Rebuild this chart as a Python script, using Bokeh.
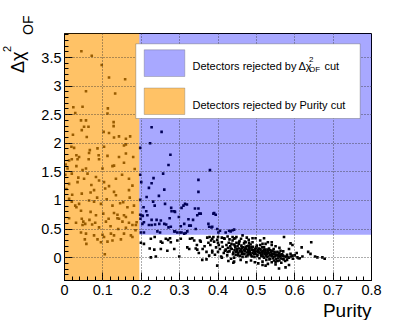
import numpy as np
from bokeh.plotting import figure
from bokeh.layouts import row
from bokeh.models import Range1d, FixedTicker, CustomJSTickFormatter, Label, BoxAnnotation, Title, Div
from bokeh.embed import file_html
from bokeh.resources import INLINE

# ---------------- data ----------------
# detectors rejected by the purity cut (purity < cut)
rejP_purity = [0.044, 0.071, 0.097, 0.116, 0.158, 0.056, 0.132, 0.023, 0.047, 0.113, 0.028, 0.112,
               0.043, 0.056, 0.128, 0.0625, 0.051, 0.045, 0.102, 0.116, 0.129, 0.142, 0.171, 0.022,
               0.058, 0.128, 0.160, 0.025, 0.066, 0.086, 0.103, 0.155, 0.031, 0.034, 0.012, 0.019,
               0.063, 0.089, 0.090, 0.112, 0.142, 0.179, 0.155, 0.125, 0.129, 0.003, 0.008, 0.031,
               0.047, 0.056, 0.099, 0.002, 0.019, 0.036, 0.051, 0.012, 0.034, 0.082, 0.103, 0.134,
               0.116, 0.168, 0.177, 0.077, 0.068, 0.106, 0.129, 0.134, 0.168, 0.012, 0.019, 0.028,
               0.031, 0.038, 0.064, 0.077, 0.095, 0.125, 0.153, 0.164, 0.181, 0.043, 0.068, 0.082,
               0.101, 0.129, 0.138, 0.155, 0.160, 0.177, 0.045, 0.049, 0.054, 0.047, 0.030, 0.012,
               0.080, 0.108, 0.090, 0.138, 0.142, 0.151, 0.168, 0.177, 0.043, 0.056, 0.099, 0.103,
               0.077, 0.121, 0.129, 0.155, 0.173, 0.177, 0.086, 0.095, 0.112, 0.125, 0.147, 0.105,
               0.053, 0.057, 0.160, 0.064, 0.160, 0.038, 0.018, 0.070, 0.085, 0.110, 0.145, 0.170,
               0.060, 0.090, 0.150, 0.120, 0.140, 0.160, 0.185, 0.005, 0.020, 0.045, 0.115, 0.072,
               0.065, 0.183, 0.188, 0.186]
rejP_chi2 = [3.61, 3.53, 3.37, 3.15, 3.12, 2.91, 2.87, 2.63, 2.64, 2.61, 2.53, 2.52,
             2.40, 2.40, 2.37, 2.29, 2.29, 2.23, 2.20, 2.18, 2.10, 2.12, 2.12, 2.15,
             2.11, 2.30, 2.08, 1.92, 1.88, 1.91, 1.94, 1.96, 1.79, 1.72, 1.70, 1.72,
             1.72, 1.79, 1.72, 1.78, 1.76, 1.76, 1.66, 1.60, 1.61, 1.63, 1.56, 1.60,
             1.53, 1.56, 1.56, 1.45, 1.47, 1.40, 1.38, 1.29, 1.32, 1.41, 1.32, 1.38,
             1.25, 1.38, 1.26, 1.18, 1.14, 1.21, 1.15, 1.09, 1.18, 1.03, 0.98, 0.91,
             0.88, 0.94, 1.00, 0.98, 0.94, 0.91, 0.97, 0.88, 0.91, 0.82, 0.80, 0.74,
             0.77, 0.78, 0.75, 0.74, 0.71, 0.79, 0.68, 0.63, 0.59, 0.57, 0.61, 0.69,
             0.61, 0.63, 0.53, 0.69, 0.68, 0.63, 0.61, 0.57, 0.44, 0.42, 0.40, 0.36,
             0.39, 0.42, 0.39, 0.42, 0.39, 0.36, 0.32, 0.27, 0.28, 0.30, 0.32, 0.06,
             0.32, 0.24, 1.98, 1.83, 1.82, 1.76, 1.94, 1.27, 1.05, 1.02, 0.95, 1.05,
             1.47, 1.35, 1.45, 0.55, 0.50, 0.52, 0.48, 1.20, 1.10, 1.12, 0.68, 0.58,
             0.66, 1.55, 0.62, 0.57]

# detectors rejected by the delta chi2 cut
rejC_purity = [0.227, 0.253, 0.223, 0.197, 0.276, 0.271, 0.379, 0.197, 0.257, 0.232, 0.349, 0.200,
               0.227, 0.220, 0.260, 0.349, 0.214, 0.246, 0.197, 0.231, 0.235, 0.262, 0.278, 0.314,
               0.319, 0.310, 0.305, 0.286, 0.340, 0.349, 0.213, 0.197, 0.204, 0.298, 0.274, 0.351,
               0.346, 0.390, 0.394, 0.227, 0.240, 0.323, 0.335, 0.206, 0.279, 0.200, 0.198, 0.251,
               0.207, 0.220, 0.227, 0.260, 0.265, 0.277, 0.303, 0.312, 0.325, 0.329, 0.342, 0.377,
               0.383, 0.398, 0.405, 0.242, 0.249, 0.199, 0.207, 0.286, 0.294, 0.301, 0.316, 0.320,
               0.442, 0.420, 0.375, 0.401, 0.433, 0.203, 0.236, 0.247, 0.271, 0.288, 0.305, 0.312,
               0.355, 0.216, 0.288, 0.388, 0.385, 0.429, 0.438]
rejC_chi2 = [2.28, 2.20, 2.00, 1.92, 1.80, 1.62, 1.53, 1.45, 1.47, 1.39, 1.36, 1.32,
             1.30, 1.22, 1.19, 1.15, 1.06, 1.08, 1.01, 0.98, 0.91, 0.94, 0.87, 0.94,
             0.93, 0.91, 0.87, 0.81, 0.86, 0.86, 0.81, 0.75, 0.73, 0.71, 0.69, 0.77,
             0.74, 0.78, 0.75, 0.66, 0.66, 0.67, 0.66, 0.88, 0.81, 0.74, 0.68, 0.65,
             0.62, 0.57, 0.57, 0.59, 0.58, 0.54, 0.55, 0.59, 0.56, 0.56, 0.50, 0.54,
             0.53, 0.50, 0.47, 0.46, 0.44, 0.44, 0.44, 0.46, 0.44, 0.44, 0.43, 0.46,
             0.49, 0.44, 0.59, 0.44, 0.46, 0.59, 0.58, 0.59, 0.53, 0.46, 0.44, 0.42,
             0.77, 0.74, 0.80, 0.77, 0.54, 0.47, 0.48]

# detectors passing both cuts
pass_purity = [0.225, 0.235, 0.264, 0.270, 0.275, 0.277, 0.199, 0.207, 0.251, 0.255, 0.294, 0.303,
               0.327, 0.333, 0.338, 0.372, 0.378, 0.385, 0.416, 0.438, 0.222, 0.234, 0.251, 0.268,
               0.286, 0.320, 0.325, 0.342, 0.346, 0.353, 0.225, 0.238, 0.299, 0.377, 0.385, 0.398,
               0.359, 0.464, 0.490, 0.498, 0.572, 0.442, 0.448, 0.455, 0.472, 0.481, 0.516, 0.524,
               0.540, 0.618, 0.643, 0.585, 0.563, 0.589, 0.594, 0.581, 0.568, 0.607, 0.613, 0.589,
               0.594, 0.635, 0.641, 0.653, 0.659, 0.672, 0.678, 0.546, 0.550, 0.559, 0.576, 0.585,
               0.516, 0.524, 0.442, 0.440,
               0.380, 0.385, 0.390, 0.392, 0.395, 0.398, 0.400, 0.402, 0.405, 0.408, 0.410, 0.412,
               0.415, 0.417, 0.420, 0.422, 0.424, 0.426, 0.428, 0.430, 0.432, 0.434, 0.436, 0.438,
               0.440, 0.441, 0.443, 0.445, 0.446, 0.448, 0.450, 0.451, 0.453, 0.455, 0.456, 0.458,
               0.460, 0.461, 0.463, 0.465, 0.466, 0.468, 0.470, 0.471, 0.473, 0.475, 0.476, 0.478,
               0.480, 0.481, 0.483, 0.485, 0.486, 0.488, 0.490, 0.491, 0.493, 0.495, 0.496, 0.498,
               0.500, 0.501, 0.503, 0.505, 0.506, 0.508, 0.510, 0.511, 0.513, 0.515, 0.516, 0.518,
               0.520, 0.521, 0.523, 0.525, 0.526, 0.528, 0.530, 0.531, 0.533, 0.535, 0.536, 0.538,
               0.540, 0.542, 0.544, 0.546, 0.548, 0.550, 0.552, 0.554, 0.556, 0.558, 0.560, 0.562,
               0.565, 0.568, 0.570, 0.575, 0.578,
               0.425, 0.433, 0.439, 0.444, 0.449, 0.452, 0.457, 0.462, 0.464, 0.467, 0.469, 0.472,
               0.474, 0.477, 0.479, 0.482, 0.484, 0.487, 0.489, 0.492, 0.494, 0.497, 0.499, 0.502,
               0.504, 0.507, 0.509, 0.512, 0.514, 0.517, 0.519, 0.522, 0.524, 0.527, 0.529, 0.532,
               0.534, 0.537, 0.539, 0.541, 0.543, 0.547, 0.551, 0.555, 0.559, 0.563, 0.567, 0.571,
               0.574, 0.580, 0.585, 0.590, 0.595,
               0.400, 0.410, 0.418, 0.427, 0.435, 0.442, 0.447, 0.454, 0.459, 0.462, 0.470, 0.474,
               0.480, 0.486, 0.490, 0.496, 0.500, 0.505, 0.510, 0.516, 0.520, 0.526, 0.530, 0.535,
               0.540, 0.545, 0.550, 0.555, 0.560, 0.565, 0.570, 0.580, 0.365, 0.370, 0.375, 0.360,
               0.355, 0.350, 0.345, 0.370, 0.382, 0.388, 0.400, 0.410, 0.425, 0.430, 0.445, 0.460,
               0.475, 0.480, 0.510, 0.520, 0.530, 0.540, 0.550, 0.560, 0.600, 0.605, 0.610, 0.620]
pass_chi2 = [0.33, 0.36, 0.33, 0.31, 0.34, 0.27, 0.26, 0.24, 0.28, 0.26, 0.30, 0.33,
             0.33, 0.34, 0.30, 0.35, 0.36, 0.33, 0.34, 0.36, 0.16, 0.14, 0.15, 0.12,
             0.15, 0.18, 0.15, 0.16, 0.14, 0.30, 0.005, 0.02, 0.02, 0.035, 0.09, -0.14,
             -0.04, 0.39, 0.34, 0.34, 0.36, 0.33, 0.36, 0.27, 0.27, 0.26, 0.24, 0.24,
             0.27, 0.18, 0.27, 0.15, 0.12, 0.065, 0.035, 0.005, 0.035, 0.005, -0.01, 0.25,
             0.22, 0.10, 0.065, 0.02, 0.005, 0.005, -0.02, -0.05, -0.08, -0.19, -0.17, -0.13,
             -0.13, -0.14, -0.07, -0.09,
             0.22, 0.12, 0.28, 0.05, 0.18, 0.31, 0.10, 0.22, 0.15, 0.02, 0.27, 0.19,
             0.08, 0.33, 0.14, 0.22, 0.04, 0.17, 0.26, 0.11, 0.20, -0.02, 0.15, 0.30,
             0.09, 0.23, 0.13, 0.18, 0.05, 0.26, 0.12, 0.20, 0.08, 0.16, 0.29, 0.03,
             0.14, 0.21, 0.10, 0.18, 0.06, 0.25, 0.12, 0.16, 0.02, 0.09, 0.20, 0.13,
             0.06, 0.17, 0.10, 0.23, 0.04, 0.14, 0.08, 0.19, 0.11, 0.01, 0.15, 0.07,
             0.12, 0.21, 0.05, 0.10, 0.16, -0.01, 0.08, 0.13, 0.03, 0.18, 0.06, 0.11,
             0.00, 0.09, 0.14, 0.04, -0.04, 0.07, 0.11, 0.02, 0.16, 0.05, -0.02, 0.09,
             0.03, 0.12, -0.01, 0.06, 0.02, 0.09, -0.03, 0.04, 0.00, 0.07, -0.05, 0.02,
             0.05, -0.02, 0.03, -0.06, 0.01,
             0.10, 0.16, 0.06, 0.21, 0.15, 0.04, 0.11, 0.17, 0.01, 0.13, 0.07, 0.19,
             0.15, 0.04, 0.10, 0.14, 0.07, 0.18, 0.02, 0.13, 0.06, 0.10, 0.16, 0.03,
             0.13, 0.09, 0.15, 0.05, 0.10, 0.02, 0.13, 0.06, 0.10, 0.01, 0.14, 0.08,
             -0.03, 0.04, 0.12, 0.07, 0.01, 0.10, 0.05, -0.06, 0.03, -0.01, 0.06, -0.03,
             0.02, -0.04, 0.00, 0.02, -0.02,
             0.26, 0.00, 0.12, -0.06, 0.24, 0.00, 0.10, 0.24, -0.04, 0.07, 0.28, -0.08,
             0.21, -0.05, 0.27, -0.08, 0.18, -0.10, 0.22, -0.07, 0.18, 0.08, -0.11, 0.13,
             -0.08, 0.15, -0.12, 0.10, 0.08, -0.09, 0.11, 0.05, 0.20, 0.10, 0.26, 0.15,
             0.28, 0.08, 0.22, -0.03, 0.30, 0.36, 0.36, 0.35, 0.37, 0.32, 0.34, 0.33,
             0.35, 0.31, 0.30, 0.34, 0.27, 0.22, 0.20, 0.17, 0.04, 0.08, -0.01, 0.02]

purity_cut = 0.195
chi2_cut = 0.4

x_ticks = [0, 0.1, 0.2, 0.3, 0.4, 0.5, 0.6, 0.7, 0.8]
y_ticks = [0, 0.5, 1, 1.5, 2, 2.5, 3, 3.5]
x_label = "Purity"
legend_chi2_prefix = "Detectors rejected by"
legend_purity = "Detectors rejected by Purity cut"

# ---------------- layout ----------------
X_MIN, X_MAX = 0.0, 0.8
Y_MIN, Y_MAX = -0.4, 3.92
TITLE_W = 38                       # width of the strip holding the y title
FRAME_L, FRAME_T, FRAME_W, FRAME_H = 62, 33, 307, 247   # canvas pixels
BOTTOM = 40
TOTAL_H = FRAME_T + FRAME_H + BOTTOM
FONT = "Liberation Sans"

def px_x(px):
    return X_MIN + (px - FRAME_L) * (X_MAX - X_MIN) / FRAME_W

def px_y(py):
    return Y_MAX - (py - FRAME_T) * (Y_MAX - Y_MIN) / FRAME_H

p = figure(frame_width=FRAME_W, frame_height=FRAME_H,
           min_border_left=FRAME_L - TITLE_W, min_border_right=28,
           min_border_top=FRAME_T, min_border_bottom=BOTTOM,
           x_range=Range1d(X_MIN, X_MAX), y_range=Range1d(Y_MIN, Y_MAX),
           output_backend="svg", toolbar_location=None)
p.background_fill_color = "white"
p.border_fill_color = "white"
p.outline_line_color = "black"
p.outline_line_width = 1

x_minor = [round(i * 0.02, 2) for i in range(41)]
y_minor = [round(-0.4 + i * 0.1, 1) for i in range(44)]
p.xaxis.ticker = FixedTicker(ticks=x_ticks, minor_ticks=x_minor)
p.yaxis.ticker = FixedTicker(ticks=y_ticks, minor_ticks=y_minor)
fmt = CustomJSTickFormatter(code="return String(tick);")
for ax in (p.xaxis[0], p.yaxis[0]):
    ax.formatter = fmt
    ax.major_tick_in = 8
    ax.major_tick_out = 0
    ax.minor_tick_in = 4
    ax.minor_tick_out = 0
    ax.axis_line_color = "black"
    ax.major_tick_line_color = "black"
    ax.minor_tick_line_color = "black"
    ax.major_label_text_font = FONT
    ax.major_label_text_font_size = "14.5px"
    ax.major_label_text_color = "black"
p.xaxis.major_label_standoff = 4
p.yaxis.major_label_standoff = 3

for g in (p.xgrid[0], p.ygrid[0]):
    g.grid_line_color = "#333333"
    g.grid_line_dash = "1 2"
    g.grid_line_width = 1
    g.grid_line_alpha = 0.8
    g.level = "guide"
p.xgrid.ticker = FixedTicker(ticks=x_ticks)
p.ygrid.ticker = FixedTicker(ticks=y_ticks)

# points
for xs, ys in ((rejP_purity, rejP_chi2), (rejC_purity, rejC_chi2), (pass_purity, pass_chi2)):
    p.scatter(xs, ys, marker="square", size=2.6, color="black", line_width=0)

ORANGE, ORANGE_A = "#ff9900", 0.6
BLUE, BLUE_A = "#0000ff", 0.34

# rejected regions (semi-transparent, over the points)
p.quad(left=[X_MIN], right=[purity_cut], bottom=[Y_MIN], top=[Y_MAX],
       fill_color=ORANGE, fill_alpha=ORANGE_A, line_color=None)
p.quad(left=[purity_cut], right=[X_MAX], bottom=[chi2_cut], top=[Y_MAX],
       fill_color=BLUE, fill_alpha=BLUE_A, line_color=None)

# legend
p.add_layout(BoxAnnotation(left=px_x(133.3), right=px_x(357.7), top=px_y(43.3), bottom=px_y(118),
                           fill_color="white", fill_alpha=1, line_color="#333333", line_width=1))
p.add_layout(BoxAnnotation(left=px_x(141.7), right=px_x(182.3), top=px_y(49.3), bottom=px_y(76),
                           fill_color=BLUE, fill_alpha=BLUE_A, line_color="#555555", line_width=1))
p.add_layout(BoxAnnotation(left=px_x(141.7), right=px_x(182.3), top=px_y(87.5), bottom=px_y(114),
                           fill_color=ORANGE, fill_alpha=ORANGE_A, line_color="#555555", line_width=1))

def lab(fig, text, x, y, size):
    fig.add_layout(Label(x=x, y=y, text=text, text_font=FONT,
                         text_font_size=size, text_color="black", text_align="left",
                         text_baseline="alphabetic"))

lab(p, legend_chi2_prefix, px_x(190), px_y(65.5), "11px")
lab(p, "Δχ", px_x(296), px_y(65.5), "11px")
lab(p, "2", px_x(306.5), px_y(59), "8px")
lab(p, "OF", px_x(306.5), px_y(69), "8px")
lab(p, "cut", px_x(322), px_y(65.5), "11px")
lab(p, legend_purity, px_x(190), px_y(104.5), "11px")

# x axis title, right aligned under the axis
p.add_layout(Title(text=x_label, align="right", text_font=FONT, text_font_size="19px",
                   text_font_style="normal", text_color="black", standoff=0), "below")

# y axis title: rotated HTML text pieces in a narrow strip left of the plot.
# (baseline x, start y, font size) in pixels; text reads upwards from start y.
def rotated(text, base_x, start_y, fs):
    left = base_x - 0.8465 * fs          # line box top -> baseline (line-height 1)
    return ('<div style="position:absolute; left:%.1fpx; top:%.1fpx; '
            'transform:rotate(-90deg); transform-origin:0 0; white-space:nowrap; '
            'font-family:\'Liberation Sans\'; font-size:%dpx; line-height:1; color:#000;">%s</div>'
            % (left, start_y, fs, text))

ytitle_html = (rotated("Δχ", 24.0, 73.0, 18) +
               rotated("2", 11.0, 52.0, 11) +
               rotated("OF", 33.0, 35.0, 14))
t = Div(text=ytitle_html, width=TITLE_W, height=TOTAL_H, margin=0,
        styles={"position": "relative", "overflow": "visible"})

layout = row(t, p)
open("out.html", "w").write(file_html(layout, INLINE))
